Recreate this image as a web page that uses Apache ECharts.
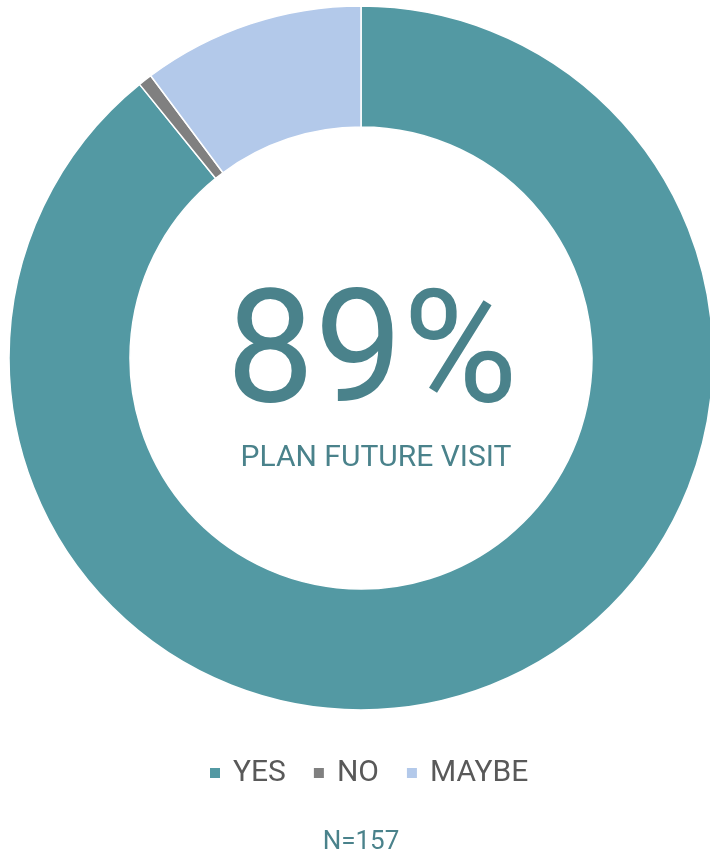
<!DOCTYPE html>
<html>
<head>
<meta charset="utf-8">
<script src="https://cdn.jsdelivr.net/npm/echarts@6/dist/echarts.min.js"></script>
<style>html,body{margin:0;padding:0;background:#fff;}#c{width:710px;height:858px;}</style>
</head>
<body>
<div id="c"></div>
<script>
const categories = ['YES', 'NO', 'MAYBE'];
const counts = [140, 1, 16];
const colors = ['#5399A3', '#808080', '#B3C9EA'];
const centerValue = '89%';
const centerLabel = 'PLAN FUTURE VISIT';
const footnote = 'N=157';

const chart = echarts.init(document.getElementById('c'), null, {renderer: 'canvas'});
chart.setOption({
  animation: false,
  color: colors,
  legend: {
    data: categories,
    top: 753,
    left: 203,
    icon: 'rect',
    itemWidth: 12,
    itemHeight: 12,
    itemGap: 26,
    textStyle: {fontFamily: 'Roboto', fontSize: 30, color: '#595959', padding: [0, 0, 0, 7]}
  },
  series: [{
    type: 'pie',
    center: [361, 358],
    radius: [231, 352],
    startAngle: 90,
    clockwise: true,
    label: {show: false},
    labelLine: {show: false},
    emphasis: {disabled: true},
    itemStyle: {borderColor: '#fff', borderWidth: 1.5},
    data: categories.map((c, i) => ({name: c, value: counts[i]}))
  }],
  graphic: [
    {type: 'text', x: 372, y: 283, style: {text: centerValue, fontFamily: 'Roboto', fontWeight: 400, fontSize: 157, fill: '#4A828B', align: 'center'}},
    {type: 'text', x: 376, y: 443, style: {text: centerLabel, fontFamily: 'Roboto', fontSize: 30, fill: '#4A828B', align: 'center'}},
    {type: 'text', x: 361, y: 829, style: {text: footnote, fontFamily: 'Roboto', fontSize: 26, fill: '#4A828B', align: 'center'}}
  ]
});
</script>
</body>
</html>
